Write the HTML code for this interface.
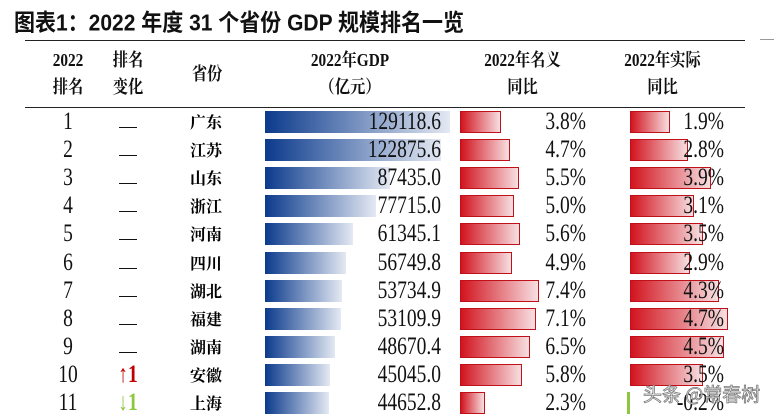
<!DOCTYPE html>
<html><head><meta charset="utf-8"><style>
body{margin:0;width:780px;height:415px;overflow:hidden;background:#fff;position:relative;font-family:"Liberation Serif","Noto Serif CJK SC",serif}
.a{position:absolute;white-space:nowrap}
.t{font-family:"Liberation Sans","Noto Sans CJK SC",sans-serif;font-weight:bold;font-size:21px;left:14px;top:5px;color:#111;transform:scaleY(1.1);transform-origin:left top}
.h{font-size:18px;font-weight:bold;text-align:center;color:#111;line-height:27px;transform:scaleX(0.85)}
.n{font-size:25px;line-height:28px;color:#111;transform:scaleX(0.78);transform-origin:right center}
.nc{transform-origin:center center}
.c{font-family:"Noto Serif CJK SC",serif;font-weight:bold;font-size:16px}
.gb{background:linear-gradient(90deg,#0b3a8c,#e4e9f3)}
.rb{background:linear-gradient(90deg,#d2141f,#f7dfe1);box-sizing:border-box;border:1px solid #c0101a}
</style></head><body>
<div class="a t">图表1：2022 年度 31 个省份 GDP 规模排名一览</div>
<div class="a" style="left:25px;top:40px;width:720px;height:1px;background:#222"></div>
<div class="a" style="left:760px;top:39px;width:14px;height:1px;background:#999"></div>
<div class="a" style="left:25px;top:107px;width:720px;height:1px;background:#222"></div>
<div class="a h" style="left:38px;top:47px;width:60px">2022<br>排名</div>
<div class="a h" style="left:98px;top:47px;width:60px">排名<br>变化</div>
<div class="a h" style="left:182px;top:61px;width:50px">省份</div>
<div class="a h" style="left:280px;top:47px;width:140px">2022年GDP<br>（亿元）</div>
<div class="a h" style="left:455px;top:47px;width:135px">2022年名义<br>同比</div>
<div class="a h" style="left:595px;top:47px;width:135px">2022年实际<br>同比</div>
<div id="r"></div>
<div class="a" style="left:643px;top:380px;font-family:'Noto Sans CJK SC',sans-serif;font-size:19px;color:#fff;-webkit-text-stroke:0.8px #777">头条 @常春树</div>
<script>
var d=[["广东",129118.6,3.8,1.9,""],["江苏",122875.6,4.7,2.8,""],["山东",87435.0,5.5,3.9,""],["浙江",77715.0,5.0,3.1,""],["河南",61345.1,5.6,3.5,""],["四川",56749.8,4.9,2.9,""],["湖北",53734.9,7.4,4.3,""],["福建",53109.9,7.1,4.7,""],["湖南",48670.4,6.5,4.5,""],["安徽",45045.0,5.8,3.5,"u"],["上海",44652.8,2.3,-0.2,"d"]];
var h="";
d.forEach(function(r,i){var y=Math.round(122+i*28.1),top=y-11;
h+='<div class="a n nc" style="left:43px;top:'+(y-14)+'px;width:50px;text-align:center">'+(i+1)+'</div>';
if(r[4]=="")h+='<div class="a" style="left:119px;top:'+(y+5)+'px;width:18px;height:1px;background:#111"></div>';
else if(r[4]=="u")h+='<div class="a n nc" style="left:103px;top:'+(y-14)+'px;width:50px;text-align:center;color:#c00000;font-weight:bold">↑1</div>';
else h+='<div class="a n nc" style="left:103px;top:'+(y-14)+'px;width:50px;text-align:center;color:#8dc63f;font-weight:bold">↓1</div>';
h+='<div class="a c" style="left:190px;top:'+(y-12)+'px">'+r[0]+'</div>';
h+='<div class="a gb" style="left:265px;top:'+top+'px;height:22px;width:'+(185*r[1]/129118.6)+'px"></div>';
h+='<div class="a n" style="left:300px;top:'+(y-14)+'px;width:141px;text-align:right">'+r[1].toFixed(1)+'</div>';
h+='<div class="a rb" style="left:460px;top:'+top+'px;height:22px;width:'+(r[2]*10.7)+'px"></div>';
h+='<div class="a n" style="left:500px;top:'+(y-14)+'px;width:86px;text-align:right">'+r[2].toFixed(1)+'%</div>';
if(r[3]>0)h+='<div class="a rb" style="left:630px;top:'+top+'px;height:22px;width:'+(r[3]*20.8)+'px"></div>';
else h+='<div class="a" style="left:627px;top:'+top+'px;height:22px;width:3px;background:#8dc63f"></div>';
h+='<div class="a n" style="left:640px;top:'+(y-14)+'px;width:84px;text-align:right">'+r[3].toFixed(1)+'%</div>';
});
document.getElementById("r").innerHTML=h;
</script>
</body></html>
